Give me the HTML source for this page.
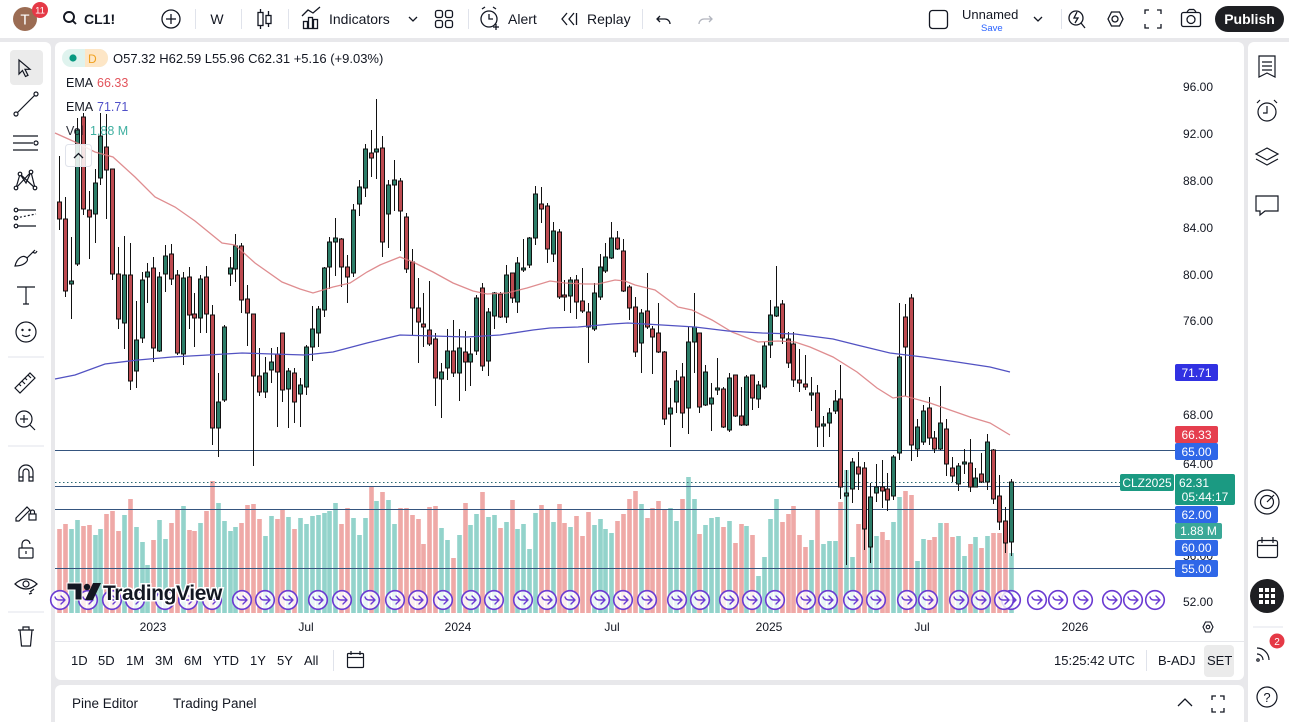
<!DOCTYPE html>
<html><head><meta charset="utf-8">
<style>
html,body{margin:0;padding:0;width:1289px;height:722px;overflow:hidden;background:#e8e8eb}
svg{display:block;font-family:"Liberation Sans",sans-serif}
</style></head>
<body>
<svg id="s" width="1289" height="722" viewBox="0 0 1289 722" xmlns="http://www.w3.org/2000/svg">
<rect width="1289" height="722" fill="#e8e8eb"/>
<!-- panels -->
<rect x="0" y="0" width="1289" height="38" fill="#fff"/>
<rect x="-6" y="42" width="57" height="690" rx="6" fill="#fff"/>
<rect x="55" y="42" width="1189" height="638" rx="6" fill="#fff"/>
<rect x="55" y="685" width="1189" height="45" rx="6" fill="#fff"/>
<rect x="1248" y="42" width="50" height="690" rx="6" fill="#fff"/>
<line x1="55" y1="641.5" x2="1244" y2="641.5" stroke="#e6e7eb" stroke-width="1"/>

<!-- volume -->
<g id="vol"></g>
<!-- horizontal lines -->
<g stroke="#35557f" stroke-width="1">
<line x1="55" y1="450.5" x2="1175" y2="450.5"/>
<line x1="55" y1="486.5" x2="1120" y2="486.5"/>
<line x1="55" y1="509.5" x2="1175" y2="509.5"/>
<line x1="55" y1="568.5" x2="1175" y2="568.5"/>
</g>
<line x1="55" y1="482.5" x2="1120" y2="482.5" stroke="#2d6b74" stroke-width="1" stroke-dasharray="1.5,2.5"/>
<!-- candles -->
<g id="cdl"></g>
<!-- EMAs -->
<polyline fill="none" stroke="#d9797c" stroke-opacity="0.85" stroke-width="1.3" points="55,133 75,142 95,152 113,157 135,177 155,197 175,207 195,221 222,243 235,245 255,263 282,282 300,289 313,293 333,287 350,283 367,272 380,265 400,257 413,262 433,272 453,283 473,291 487,294 507,293 527,288 550,281 565,283 585,284 598,284 615,280 625,281 635,285 655,290 678,307 692,310 712,320 732,332 758,342 778,341 795,342 810,347 833,357 857,372 877,388 893,398 905,396 930,403 950,410 970,417 990,423 1010,435"/>
<polyline fill="none" stroke="#5252c2" stroke-width="1.3" points="55,379 75,375 105,364 138,360 172,357 208,355 242,353 272,354 305,355 333,352 367,343 400,335 433,336 467,337 500,335 533,330 550,328 578,327 612,324 628,323 662,325 695,327 728,331 762,333 795,334 833,339 857,345 890,353 923,357 957,362 990,367 1010,372"/>
<!-- arrows row -->
<g id="arr"></g>
<!-- TV watermark -->
<g>
<path d="M67 583 h15 v17 h-7 v-10 h-8 z" fill="#131722" stroke="#fff" stroke-width="1"/>
<circle cx="87" cy="587" r="3.2" fill="#131722"/>
<path d="M93 583 h8 l-8 17 h-8 z" fill="#131722"/>
<text x="103" y="600" font-size="21" font-weight="bold" fill="#131722" stroke="#fff" stroke-width="3" paint-order="stroke" letter-spacing="-0.4">TradingView</text>
</g>

<!-- legend -->
<rect x="62" y="49" width="46" height="18" rx="9" fill="#dff3ee"/>
<path d="M85 49 h14 a9 9 0 0 1 0 18 h-14 z" fill="#fde6c6"/>
<circle cx="73" cy="58" r="3.6" fill="#089981"/>
<text x="88" y="63" font-size="12" fill="#f0a01e">D</text>
<text x="113" y="63" font-size="13" fill="#131722">O57.32 H62.59 L55.96 C62.31 +5.16 (+9.03%)</text>
<text x="66" y="87" font-size="12.5" fill="#131722">EMA</text><text x="97" y="87" font-size="12.5" fill="#e2545c">66.33</text>
<text x="66" y="111" font-size="12.5" fill="#131722">EMA</text><text x="97" y="111" font-size="12.5" fill="#5050c8">71.71</text>
<text x="66" y="135" font-size="12.5" fill="#131722" opacity="0.9">Vol</text><text x="90" y="135" font-size="12.5" fill="#2aa796" opacity="0.9">1.88 M</text>
<rect x="65.5" y="144.5" width="26" height="22" rx="3" fill="#fff" fill-opacity="0.85" stroke="#e0e3eb"/>
<polyline points="74,158 78.5,153.5 83,158" fill="none" stroke="#131722" stroke-width="1.3"/>

<!-- price axis -->
<g font-size="12" fill="#131722" text-anchor="end">
<text x="1213" y="91">96.00</text>
<text x="1213" y="138">92.00</text>
<text x="1213" y="185">88.00</text>
<text x="1213" y="232">84.00</text>
<text x="1213" y="279">80.00</text>
<text x="1213" y="325">76.00</text>
<text x="1213" y="419">68.00</text>
<text x="1213" y="468">64.00</text>
<text x="1213" y="560">56.00</text>
<text x="1213" y="606">52.00</text>
</g>
<g font-size="12" fill="#fff" text-anchor="middle">
<rect x="1175" y="364" width="43" height="17" rx="2" fill="#3131e2"/><text x="1196.5" y="377">71.71</text>
<rect x="1175" y="426" width="43" height="17" rx="2" fill="#e53e4e"/><text x="1196.5" y="439">66.33</text>
<rect x="1175" y="443" width="43" height="17" rx="2" fill="#2f67e8"/><text x="1196.5" y="456">65.00</text>
<rect x="1120" y="474" width="54" height="17" rx="2" fill="#1b9a82"/><text x="1147" y="487">CLZ2025</text>
<rect x="1175" y="474" width="60" height="31" rx="2" fill="#1b9a82"/><text x="1194" y="487">62.31</text><text x="1205" y="501">05:44:17</text>
<rect x="1175" y="506" width="43" height="17" rx="2" fill="#2f67e8"/><text x="1196.5" y="519">62.00</text>
<rect x="1175" y="523" width="47" height="16" rx="2" fill="#3aa897"/><text x="1198.5" y="535">1.88 M</text>
<rect x="1175" y="540" width="43" height="16" rx="2" fill="#2f67e8"/><text x="1196.5" y="552">60.00</text>
<rect x="1175" y="560" width="43" height="17" rx="2" fill="#2f67e8"/><text x="1196.5" y="573">55.00</text>
</g>

<!-- time axis -->
<g font-size="12" fill="#131722" text-anchor="middle">
<text x="153" y="631">2023</text><text x="306" y="631">Jul</text><text x="458" y="631">2024</text><text x="612" y="631">Jul</text><text x="769" y="631">2025</text><text x="922" y="631">Jul</text><text x="1075" y="631">2026</text>
</g>
<path d="M1203 627 l2.5-5 h5 l2.5 5 l-2.5 5 h-5 z" fill="none" stroke="#131722" stroke-width="1.1"/><circle cx="1208" cy="627" r="1.8" fill="none" stroke="#131722" stroke-width="1.1"/>

<!-- bottom toolbar -->
<g font-size="13" fill="#131722">
<text x="71" y="665">1D</text><text x="98" y="665">5D</text><text x="126" y="665">1M</text><text x="155" y="665">3M</text><text x="184" y="665">6M</text><text x="213" y="665">YTD</text><text x="250" y="665">1Y</text><text x="277" y="665">5Y</text><text x="304" y="665">All</text>
<text x="1054" y="665">15:25:42 UTC</text><text x="1158" y="665">B-ADJ</text>
</g>
<line x1="333.5" y1="650" x2="333.5" y2="671" stroke="#e0e3eb"/>
<line x1="1146.5" y1="650" x2="1146.5" y2="671" stroke="#e0e3eb"/>
<rect x="1204" y="645" width="30" height="32" rx="4" fill="#ebebeb"/>
<text x="1207" y="665" font-size="13" fill="#131722">SET</text>
<g fill="none" stroke="#131722" stroke-width="1.2">
<rect x="347.5" y="653.5" width="16" height="14" rx="1"/><line x1="347.5" y1="657.5" x2="363.5" y2="657.5"/><line x1="351" y1="651" x2="351" y2="655"/><line x1="360" y1="651" x2="360" y2="655"/>
</g>
<!-- pine panel -->
<text x="72" y="708" font-size="13.5" fill="#131722">Pine Editor</text>
<text x="173" y="708" font-size="13.5" fill="#131722">Trading Panel</text>
<polyline points="1178,706 1185,699 1192,706" fill="none" stroke="#131722" stroke-width="1.3"/>
<g fill="none" stroke="#131722" stroke-width="1.3"><path d="M1212 700 v-4 h4 M1220 696 h4 v4 M1224 708 v4 h-4 M1216 712 h-4 v-4"/></g>

<!-- top bar -->
<circle cx="25" cy="19" r="12" fill="#9b6c53"/>
<text x="25" y="24.5" font-size="15" fill="#fff" text-anchor="middle">T</text>
<circle cx="40" cy="10" r="8" fill="#e53946"/>
<text x="40" y="13.5" font-size="9.5" fill="#fff" text-anchor="middle">11</text>
<g fill="none" stroke="#131722" stroke-width="1.9"><circle cx="69" cy="17" r="5"/><line x1="72.5" y1="20.5" x2="76" y2="24"/></g>
<text x="84" y="24" font-size="14" font-weight="bold" fill="#131722">CL1!</text>
<text x="217" y="24" font-size="14" fill="#131722" text-anchor="middle">W</text>
<g stroke="#e0e3eb"><line x1="195.5" y1="9" x2="195.5" y2="29"/><line x1="241.5" y1="9" x2="241.5" y2="29"/><line x1="288.5" y1="9" x2="288.5" y2="29"/><line x1="468.5" y1="9" x2="468.5" y2="29"/><line x1="642.5" y1="9" x2="642.5" y2="29"/><line x1="1061.5" y1="9" x2="1061.5" y2="29"/></g>
<g fill="none" stroke="#131722" stroke-width="1.3">
<circle cx="171" cy="19" r="9"/><line x1="171" y1="14" x2="171" y2="24"/><line x1="166" y1="19" x2="176" y2="19"/>
<line x1="260.5" y1="9" x2="260.5" y2="29"/><rect x="258" y="12.5" width="5" height="13" fill="#fff"/>
<line x1="268.5" y1="11" x2="268.5" y2="27"/><rect x="266" y="15.5" width="5" height="8" fill="#fff"/>
<rect x="303.5" y="21.5" width="4" height="7"/><rect x="308.5" y="17.5" width="4" height="11"/><rect x="313.5" y="19.5" width="4" height="9"/>
<polyline points="302,16 308,10 313,13 320,7"/>
<polyline points="409,17 413,21 417,17"/>
<rect x="435.5" y="10.5" width="7" height="7" rx="2"/><rect x="445.5" y="10.5" width="7" height="7" rx="2"/><rect x="435.5" y="20.5" width="7" height="7" rx="2"/><rect x="445.5" y="20.5" width="7" height="7" rx="2"/>
<circle cx="489" cy="19" r="8"/><polyline points="489,14 489,19 493,19"/><line x1="482" y1="9" x2="485" y2="7"/><line x1="496" y1="9" x2="493" y2="7"/><line x1="496" y1="24" x2="496" y2="30"/><line x1="493" y1="27" x2="499" y2="27"/>
<polyline points="567,13 562,19 567,25"/><polyline points="574,13 569,19 574,25"/><line x1="576.5" y1="13" x2="576.5" y2="25"/>
<path d="M660 16 l-3 3 l3 3 M657 19 h8 a5 5 0 0 1 5 5"/>
</g>
<g fill="#131722" font-size="14"><text x="329" y="24">Indicators</text><text x="508" y="24">Alert</text><text x="587" y="24">Replay</text></g>
<path d="M709 16 l3 3 l-3 3 M712 19 h-8 a5 5 0 0 0 -5 5" fill="none" stroke="#b2b5be" stroke-width="1.3"/>
<g fill="none" stroke="#131722" stroke-width="1.3">
<rect x="929.5" y="10.5" width="18" height="18" rx="3"/>
<polyline points="1034,17 1038,21 1042,17"/>
<circle cx="1076" cy="18" r="7"/><line x1="1081" y1="23" x2="1085" y2="28"/><polyline points="1077,12 1074,18 1078,18 1075,23"/>
<path d="M1108 19 l3.5-7 h8 l3.5 7 l-3.5 7 h-8 z"/><circle cx="1115" cy="19" r="3"/>
<path d="M1145 14 v-4 h4 M1157 10 h4 v4 M1161 24 v4 h-4 M1149 28 h-4 v-4"/>
<rect x="1181.5" y="12.5" width="19" height="14" rx="2"/><circle cx="1191" cy="19.5" r="4"/><line x1="1187" y1="12" x2="1189" y2="9.5"/><line x1="1189" y1="9.5" x2="1194" y2="9.5"/><line x1="1194" y1="9.5" x2="1196" y2="12"/>
</g>
<text x="962" y="19" font-size="13" fill="#131722">Unnamed</text>
<text x="981" y="31" font-size="9.5" fill="#2962ff">Save</text>
<rect x="1215" y="6" width="69" height="26" rx="13" fill="#1e1f23"/>
<text x="1249.5" y="24" font-size="14" font-weight="bold" fill="#fff" text-anchor="middle">Publish</text>

<!-- left toolbar -->
<rect x="10" y="50" width="33" height="35" rx="4" fill="#ebebeb"/>
<g fill="none" stroke="#131722" stroke-width="1.2">
<path d="M19 60 l0 14 l3.5-3.5 l3 6 l2.5-1.2 l-3-6 l5 0 z"/>
<line x1="17" y1="113" x2="35" y2="95"/><circle cx="16" cy="114" r="2" fill="#fff"/><circle cx="36" cy="94" r="2" fill="#fff"/>
<line x1="13" y1="136" x2="38" y2="136"/><line x1="13" y1="143" x2="33" y2="143"/><line x1="13" y1="150" x2="38" y2="150"/><circle cx="36" cy="143" r="2" fill="#fff"/>
<path d="M16 188 l4-14 l6 9 l5-11 l4 16 M16 188 l15-16 M20 174 l15 14"/><circle cx="16" cy="188" r="1.8" fill="#fff"/><circle cx="20" cy="174" r="1.8" fill="#fff"/><circle cx="31" cy="172" r="1.8" fill="#fff"/><circle cx="35" cy="188" r="1.8" fill="#fff"/>
<line x1="16" y1="210" x2="36" y2="210"/><line x1="16" y1="218" x2="36" y2="214" stroke-dasharray="2,2"/><line x1="16" y1="226" x2="36" y2="226"/><circle cx="16" cy="210" r="1.8" fill="#fff"/><circle cx="16" cy="218" r="1.8" fill="#fff"/><circle cx="16" cy="226" r="1.8" fill="#fff"/>
<path d="M15 266 c2-8 8-12 12-8 c2 3 -3 8 -12 8 z M27 258 l8-8 M33 252 c2 2 3 1 4 -1"/>
<path d="M17 287 h18 M26 287 v17 M23 304 h6"/>
<circle cx="26" cy="332" r="10"/><circle cx="22.5" cy="330" r="0.6" fill="#131722"/><circle cx="29.5" cy="330" r="0.6" fill="#131722"/><path d="M22 335 q4 3 8 0"/>
<path d="M15 388 l15-15 l5 5 l-15 15 z M19 384 l2 2 M22 381 l3 3 M25 378 l2 2 M28 375 l3 3"/>
<circle cx="24" cy="419" r="8"/><line x1="30" y1="425" x2="35" y2="430"/><line x1="24" y1="415" x2="24" y2="423"/><line x1="20" y1="419" x2="28" y2="419"/>
<path d="M19 481 v-9 a7 7 0 0 1 14 0 v9 h-4 v-9 a3 3 0 0 0 -6 0 v9 z M19 477 h4 M29 477 h4"/>
<path d="M16 518 l11-11 l3 3 l-11 11 h-3 z"/><rect x="29" y="514" width="7" height="6"/><path d="M30.5 514 v-2 a2 2 0 0 1 4 0 v2"/>
<rect x="19" y="548" width="14" height="10" rx="1"/><path d="M22 548 v-4 a4 4 0 0 1 8 0"/><line x1="26" y1="551" x2="26" y2="554"/>
<path d="M15 584 q11-10 22 0 q-11 10 -22 0 z"/><circle cx="26" cy="584" r="3"/><path d="M30 592 l4-3 M29 594 l3 -1"/>
<path d="M18 630 h16 M23 630 v-3 h6 v3 M20 630 l1.5 16 h9 l1.5-16"/>
</g>
<g stroke="#e0e3eb"><line x1="8" y1="357" x2="44" y2="357"/><line x1="8" y1="446" x2="44" y2="446"/><line x1="8" y1="612" x2="44" y2="612"/></g>

<!-- right toolbar -->
<g fill="none" stroke="#131722" stroke-width="1.2">
<path d="M1259 56 h16 v21 l-8-4 l-8 4 z M1262 62 h10 M1262 66 h10 M1262 70 h10"/>
<circle cx="1267" cy="112" r="9"/><polyline points="1267,106 1267,113 1263,113"/><path d="M1257 103 l3-3 M1277 103 l-3-3"/>
<path d="M1267 148 l11 6 l-11 6 l-11-6 z M1256 159 l11 6 l11-6"/>
<path d="M1256 196 h22 v15 h-13 l-5 4 v-4 h-4 z"/>
<circle cx="1267" cy="502" r="12"/><circle cx="1267" cy="502" r="6.5"/><line x1="1267" y1="502" x2="1274" y2="495"/>
<rect x="1257.5" y="540.5" width="20" height="17" rx="2"/><line x1="1257.5" y1="545.5" x2="1277.5" y2="545.5"/><line x1="1262" y1="537" x2="1262" y2="543"/><line x1="1273" y1="537" x2="1273" y2="543"/>
<path d="M1257 648 a12 12 0 0 1 12 12 M1257 654 a6 6 0 0 1 6 6"/><circle cx="1258" cy="660" r="1.2"/>
<circle cx="1267" cy="697" r="10"/>
</g>
<circle cx="1267" cy="596" r="17" fill="#1e1f23"/>
<g fill="#fff"><rect x="1259" y="588" width="4" height="4"/><rect x="1265" y="588" width="4" height="4"/><rect x="1271" y="588" width="4" height="4"/><rect x="1259" y="594" width="4" height="4"/><rect x="1265" y="594" width="4" height="4"/><rect x="1271" y="594" width="4" height="4"/><rect x="1259" y="600" width="4" height="4"/><rect x="1265" y="600" width="4" height="4"/><rect x="1271" y="600" width="4" height="4"/></g>
<circle cx="1277" cy="641" r="7.5" fill="#e53946"/><text x="1277" y="645" font-size="10" fill="#fff" text-anchor="middle">2</text>
<text x="1267" y="702" font-size="13" fill="#131722" text-anchor="middle">?</text>
<line x1="1253" y1="627" x2="1283" y2="627" stroke="#e0e3eb"/>
</svg>
<script>
(function(){
var NS="http://www.w3.org/2000/svg";
function el(p,t,a){var e=document.createElementNS(NS,t);for(var k in a)e.setAttribute(k,a[k]);p.appendChild(e);return e;}
var D="r202,219,156,230|r219,291,197,297|g281,284,237,319|g130,264,118,266|r117,209,113,215|r210,217,191,259|g183,214,169,243|g136,178,113,185|r147,170,114,219|r169,274,169,280|r274,319,247,329|g275,323,236,349|r275,381,243,390|g340,371,301,388|g280,338,272,343|g272,277,263,303|r268,348,257,362|g277,351,272,352|g256,274,245,292|r254,279,244,285|r275,353,270,355|g278,354,272,365|r277,315,267,329|r314,318,293,347|g279,318,275,333|r277,314,266,333|r315,428,305,445|g402,428,373,457|g327,400,325,402|g268,274,257,286|g246,269,234,282|r246,300,243,313|r299,313,285,346|r314,376,314,466|r376,392,348,396|g373,392,357,398|g362,370,348,383|r354,372,347,427|r333,390,333,402|g371,389,368,428|r373,402,368,423|g385,394,378,427|g347,387,345,395|g329,347,306,361|g309,333,306,347|g268,310,267,317|g242,267,237,289|g238,242,218,276|r239,267,238,287|r267,277,255,303|g210,273,204,277|g187,204,180,216|g149,188,144,197|r153,158,130,177|g149,152,99,179|r148,242,136,257|g185,214,180,248|g180,185,160,211|r181,211,178,251|r217,269,213,273|r262,308,249,335|r308,322,278,363|r324,327,293,347|r330,344,281,346|r339,378,333,406|g372,379,363,418|g351,368,329,380|r351,373,320,377|g348,373,329,401|r352,362,331,391|g354,362,338,386|g298,351,295,355|r288,366,283,371|g312,361,308,376|g293,316,292,329|r294,317,292,318|g275,317,265,323|r273,298,273,303|g263,302,257,313|g268,270,239,272|g238,265,237,268|g194,238,186,245|r204,209,187,223|r206,249,203,263|g231,254,222,262|r232,297,229,299|r295,297,280,311|g280,296,277,313|r280,302,275,319|r301,311,268,313|r312,327,303,363|g293,329,283,331|g267,297,254,300|g257,271,243,273|g238,258,222,259|r238,249,231,250|r251,291,239,292|r287,308,285,320|r307,352,297,357|g313,343,309,373|r311,327,273,329|r329,337,326,374|r333,352,303,353|r352,419,351,425|g408,414,388,447|g381,402,370,413|r377,413,363,428|g342,408,327,434|g327,342,293,373|r333,407,333,413|g372,405,365,406|g398,404,383,431|g388,390,358,395|r389,427,387,428|g378,430,373,432|r375,416,375,417|r416,425,387,426|g377,425,375,426|r375,398,375,410|g385,399,381,408|g346,387,342,389|g315,345,300,358|g307,316,266,317|r304,338,300,344|r339,363,332,368|r344,380,332,387|r380,383,349,392|r384,387,355,390|g393,395,377,411|r393,427,385,447|g424,426,416,447|g413,423,408,437|g401,411,390,414|r399,487,365,499|g493,496,470,565|g462,489,458,503|r467,474,452,490|r468,529,462,550|g497,547,483,563|g487,493,464,502|r487,491,460,508|r489,500,473,511|g457,496,455,500|g357,453,303,460|r317,347,304,396|r298,445,294,461|g427,449,419,457|g411,442,405,445|r408,438,397,445|r438,449,431,453|g423,449,386,450|r429,464,419,476|r468,476,457,482|g466,484,463,491|g462,464,449,474|r463,487,439,492|g478,487,468,487|r474,482,453,483|g442,482,434,490|r450,499,449,504|r496,522,475,530|r521,543,507,553|g482,542,479,556";
var V=[529,524,529,520,526,525,535,529,514,511,531,515,499,527,542,565,540,520,539,523,509,506,530,531,523,511,481,503,521,531,527,523,505,504,519,536,516,519,509,517,529,518,524,516,515,513,511,503,524,508,518,535,518,487,501,492,500,524,508,508,515,519,544,507,506,528,540,558,535,503,525,514,492,517,515,528,522,500,529,524,549,513,505,510,522,504,523,527,516,536,512,525,519,529,533,521,514,499,491,504,518,508,501,509,508,521,499,477,499,534,525,518,517,527,521,543,524,526,535,576,557,519,499,522,514,506,535,547,540,509,544,541,541,502,470,557,524,512,520,536,532,540,522,497,491,495,561,539,540,537,523,523,537,536,556,544,537,548,536,533,533,543,553];
var gv=document.getElementById("vol"),gc=document.getElementById("cdl"),ga=document.getElementById("arr");
D.split("|").forEach(function(s,i){
  var up=s[0]=="g";var n=s.slice(1).split(",").map(Number);
  var cx=Math.round(59.3+5.873*i);
  var vt=V[i]||530;
  el(gv,"rect",{x:cx-1.8,y:vt,width:4.6,height:613-vt,fill:up?"#93d3cb":"#efa9a7"});
  el(gc,"line",{x1:cx+0.5,x2:cx+0.5,y1:n[2],y2:n[3],stroke:"#111","stroke-width":1});
  var t=n[0],b=n[1];if(b-t<1.5)b=t+1.5;
  el(gc,"rect",{x:cx-1.5,y:t,width:4,height:b-t,fill:up?"#2c7d68":"#bd4a50",stroke:"#111","stroke-width":1});
});
var A=[60,88,112,135,165,188,212,242,265,288,318,342,370,395,418,443,471,494,523,547,570,600,623,647,677,700,729,752,775,806,828,853,876,907,928,959,981,1011,1004,1037,1058,1083,1112,1133,1155];
A.forEach(function(x){
  el(ga,"circle",{cx:x,cy:600,r:9.3,fill:"#fff","fill-opacity":"0.8",stroke:"#6a3ad2","stroke-width":1.6});
  el(ga,"path",{d:"M"+(x-5)+" 597 q1 3 4 3 h5 M"+(x+1)+" 596 l4 4 l-4 4",fill:"none",stroke:"#6a3ad2","stroke-width":1.4,"stroke-linecap":"round","stroke-linejoin":"round"});
});
})();
</script>
</body></html>
